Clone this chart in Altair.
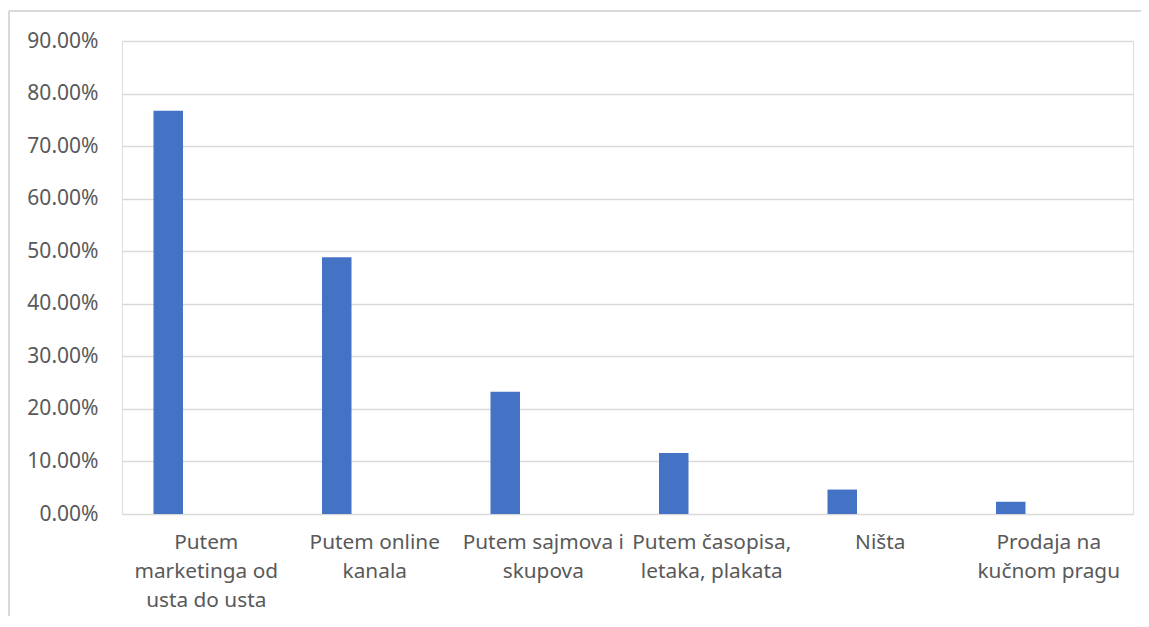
import altair as alt
import pandas as pd

categories = [
    "Putem marketinga od usta do usta",
    "Putem online kanala",
    "Putem sajmova i skupova",
    "Putem časopisa, letaka, plakata",
    "Ništa",
    "Prodaja na kučnom pragu",
]
label_lines = [
    ["Putem", "marketinga od", "usta do usta"],
    ["Putem online", "kanala"],
    ["Putem sajmova i", "skupova"],
    ["Putem časopisa,", "letaka, plakata"],
    ["Ništa"],
    ["Prodaja na", "kučnom pragu"],
]
values = [0.7674, 0.4884, 0.2326, 0.1163, 0.0465, 0.0233]
y_ticks = [0, 0.1, 0.2, 0.3, 0.4, 0.5, 0.6, 0.7, 0.8, 0.9]

df = pd.DataFrame({"cat": categories, "val": values})

label_expr = ""
for c, lines in zip(categories, label_lines):
    arr = "[" + ",".join("'" + l + "'" for l in lines) + "]"
    label_expr += f"datum.value === '{c}' ? {arr} : "
label_expr += "datum.value"

FONT = "Noto Sans"
TXT = "#595959"
GRID = "#d9d9d9"

bars = alt.Chart(df).mark_bar(color="#4472C4", width=29.5, xOffset=-38).encode(
    x=alt.X(
        "cat:N",
        sort=categories,
        title=None,
        scale=alt.Scale(paddingInner=0, paddingOuter=0),
        axis=alt.Axis(
            labelExpr=label_expr,
            labelAngle=0,
            labelAlign="center",
            labelBaseline="top",
            labelPadding=18,
            labelLineHeight=29,
            labelFont=FONT,
            labelFontSize=20.8,
            labelColor=TXT,
            labelLimit=300,
            domain=False,
            ticks=False,
        ),
    ),
    y=alt.Y(
        "val:Q",
        title=None,
        scale=alt.Scale(domain=[0, 0.9], nice=False),
        axis=alt.Axis(
            values=y_ticks,
            format=".2%",
            labelFont=FONT,
            labelFontSize=21,
            labelColor=TXT,
            labelPadding=24,
            domain=False,
            ticks=False,
            gridColor=GRID,
            gridWidth=1.3,
        ),
    ),
)

top_border = alt.Chart(df).mark_rule(color=GRID, strokeWidth=1.5).encode(
    x=alt.value(-113), x2=alt.value(1040), y=alt.value(-30)
)
left_border = alt.Chart(df).mark_rule(color=GRID, strokeWidth=1.5).encode(
    x=alt.value(-113), y=alt.value(-30), y2=alt.value(600)
)

chart = (
    alt.layer(bars, top_border, left_border)
    .properties(
        width=1011,
        height=473,
        autosize=alt.AutoSizeParams(type="none"),
        padding={"left": 114, "top": 33, "right": 8, "bottom": 102},
    )
    .configure_view(stroke=None)
    .configure(background="white")
)

chart.save("out.html", embed_options={"renderer": "svg", "actions": False})
